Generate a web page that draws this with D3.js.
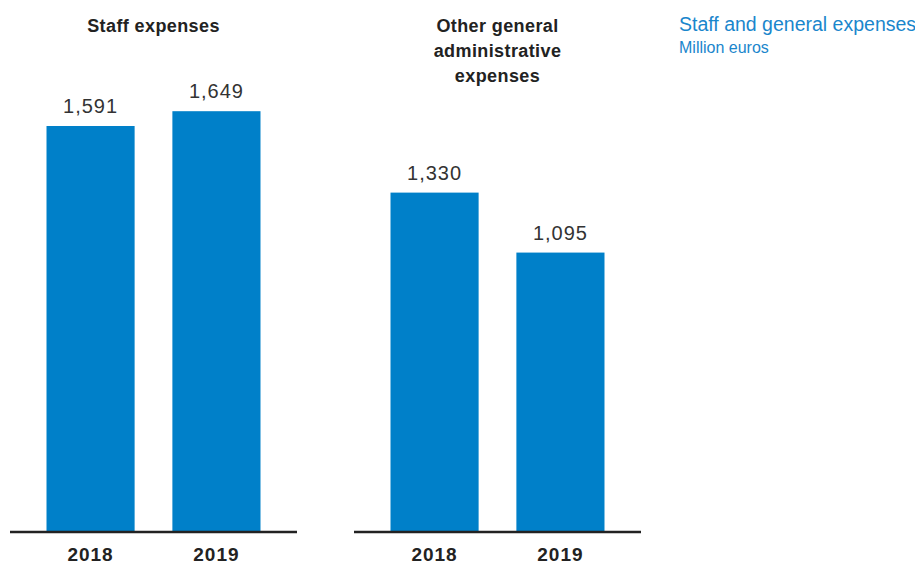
<!DOCTYPE html>
<html>
<head>
<meta charset="utf-8">
<script src="https://cdn.jsdelivr.net/npm/d3@7/dist/d3.min.js"></script>
<style>
  html, body { margin: 0; padding: 0; background: #fff; }
  svg { display: block; }
</style>
</head>
<body>
<svg id="chart" width="915" height="566"></svg>
<script>
// Data
const years = ["2018", "2019"];
const staffExpenses = [1591, 1649];
const otherExpenses = [1330, 1095];
const panelTitles = [["Staff expenses"], ["Other general", "administrative", "expenses"]];
const chartTitle = "Staff and general expenses";
const chartUnit = "Million euros";

const barColor = "#0080c9";
const textColor = "#222";
const fontFamily = "'Liberation Sans', Arial, sans-serif";

const svg = d3.select("#chart");

const baseline = 532;
const y = d3.scaleLinear().domain([0, 1649]).range([baseline, 111.2]);

const panels = [
  { values: staffExpenses, x0: 10, x1: 297, title: panelTitles[0], titleY: 32 },
  { values: otherExpenses, x0: 354, x1: 641, title: panelTitles[1], titleY: 32 }
];

panels.forEach(p => {
  const x = d3.scaleBand().domain(years).range([p.x0, p.x1])
    .paddingInner(0.3).paddingOuter(0.29);
  const g = svg.append("g");
  const data = years.map((yr, i) => ({ year: yr, value: p.values[i] }));

  g.selectAll("rect").data(data).join("rect")
    .attr("x", d => x(d.year))
    .attr("width", x.bandwidth())
    .attr("y", d => y(d.value))
    .attr("height", d => baseline - y(d.value))
    .attr("fill", barColor);

  g.selectAll("text.val").data(data).join("text")
    .attr("class", "val")
    .attr("x", d => x(d.year) + x.bandwidth() / 2)
    .attr("y", d => y(d.value) - 13)
    .attr("text-anchor", "middle")
    .attr("font-family", fontFamily)
    .attr("font-size", 20)
    .attr("letter-spacing", 1)
    .attr("fill", "#333")
    .text(d => d3.format(",")(d.value));

  // Category axis
  const axis = g.append("g")
    .attr("transform", `translate(0,${baseline})`)
    .call(d3.axisBottom(x).tickSize(0).tickPadding(16));
  axis.select(".domain").attr("stroke", textColor).attr("stroke-width", 2.5)
    .attr("d", `M${p.x0},0H${p.x1}`);
  axis.selectAll("text")
    .attr("font-family", fontFamily)
    .attr("font-size", 19)
    .attr("letter-spacing", 1)
    .attr("font-weight", "bold")
    .attr("fill", textColor);

  const cx = (p.x0 + p.x1) / 2;
  g.append("text")
    .attr("x", cx)
    .attr("y", p.titleY)
    .attr("text-anchor", "middle")
    .attr("font-family", fontFamily)
    .attr("font-size", 18)
    .attr("letter-spacing", 0.4)
    .attr("font-weight", "bold")
    .attr("fill", textColor)
    .selectAll("tspan").data(p.title).join("tspan")
    .attr("x", cx)
    .attr("dy", (d, i) => i === 0 ? 0 : 25)
    .text(d => d);
});

svg.append("text")
  .attr("x", 679).attr("y", 31)
  .attr("font-family", fontFamily)
  .attr("font-size", 19.5)
  .attr("fill", "#1a86cc")
  .text(chartTitle);

svg.append("text")
  .attr("x", 679).attr("y", 53)
  .attr("font-family", fontFamily)
  .attr("font-size", 16)
  .attr("fill", "#1a86cc")
  .text(chartUnit);
</script>
</body>
</html>
